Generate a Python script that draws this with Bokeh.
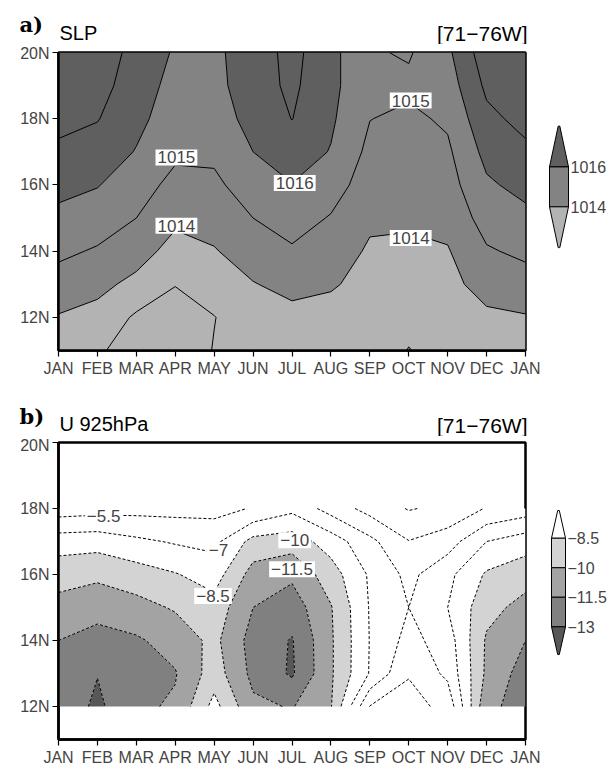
import numpy as np
from bokeh.plotting import figure
from bokeh.models import Range1d, FixedTicker, Label
from bokeh.layouts import column, row
from bokeh.core.properties import value
from bokeh.embed import file_html
from bokeh.resources import INLINE

# ---------------- data ----------------
MONTHS = ["JAN", "FEB", "MAR", "APR", "MAY", "JUN", "JUL", "AUG", "SEP", "OCT", "NOV", "DEC", "JAN"]
month_pos = list(range(13))
lat_ticks = [12, 14, 16, 18, 20]
lat_labels = ["12N", "14N", "16N", "18N", "20N"]

# SLP (hPa), latitudes 11N..20N, one list per month
slp_lats = [11, 12, 13, 14, 15, 16, 17, 18, 19, 20]
slp_jan = [1013.3, 1013.93, 1014.6, 1015.2, 1015.75, 1016.3, 1016.8, 1017.3, 1017.7, 1017.95]
slp_feb = [1013.15, 1013.7, 1014.25, 1014.9, 1015.5, 1016.05, 1016.55, 1017.05, 1017.4, 1017.7]
slp_mar = [1012.5, 1012.85, 1013.75, 1014.4, 1015.0, 1015.45, 1015.95, 1016.25, 1016.45, 1016.6]
slp_apr = [1012.3, 1012.6, 1013.03, 1013.65, 1014.2, 1014.7, 1015.2, 1015.5, 1015.7, 1015.9]
slp_may = [1013.05, 1012.97, 1013.5, 1013.93, 1014.4, 1014.8, 1015.2, 1015.5, 1015.7, 1015.8]
slp_jun = [1013.3, 1013.6, 1013.95, 1014.5, 1015.0, 1015.5, 1016.0, 1016.35, 1016.55, 1016.5]
slp_jul = [1013.1, 1013.7, 1014.3, 1014.88, 1015.42, 1015.97, 1016.5, 1017.02, 1017.2, 1017.3]
slp_aug = [1013.1, 1013.55, 1014.13, 1014.6, 1014.93, 1015.45, 1015.95, 1016.15, 1016.25, 1016.3]
slp_sep = [1013.2, 1013.4, 1013.6, 1013.85, 1014.2, 1014.5, 1014.75, 1015.02, 1015.25, 1015.1]
slp_oct = [1014.05, 1013.6, 1013.7, 1013.8, 1014.15, 1014.4, 1014.6, 1014.8, 1015.2, 1014.9]
slp_nov = [1013.4, 1013.5, 1013.7, 1013.93, 1014.3, 1014.6, 1014.83, 1015.15, 1015.5, 1015.8]
slp_dec = [1013.2, 1013.8, 1014.4, 1014.9, 1015.4, 1015.85, 1016.3, 1016.75, 1017.2, 1017.6]
slp_fill_levels = [1000, 1014, 1016, 1030]
slp_line_levels = [1013, 1014, 1015, 1016, 1017]
slp_labels = [(3.03, 16.83, 1015), (6.07, 16.06, 1016), (9.05, 18.55, 1015),
              (3.03, 14.77, 1014), (9.05, 14.40, 1014)]
slp_cbar_labels = ["1016", "1014"]

# U 925hPa (m/s), latitudes 12N..18N, one list per month
u_lats = [12, 13, 14, 15, 16, 17, 18]
u_jan = [-12.0, -12.2, -11.5, -10.5, -9.4, -7.8, -4.7]
u_feb = [-13.3, -12.95, -12.1, -10.9, -9.7, -7.9, -4.9]
u_mar = [-11.8, -12.0, -11.7, -10.5, -9.2, -7.3, -5.0]
u_apr = [-11.3, -11.6, -10.9, -9.85, -8.6, -6.85, -5.0]
u_may = [-8.0, -9.25, -9.6, -9.1, -7.8, -6.6, -5.0]
u_jun = [-11.2, -11.9, -12.1, -11.5, -10.6, -9.0, -5.6]
u_jul = [-11.6, -13.2, -13.1, -12.3, -11.2, -9.3, -6.6]
u_aug = [-10.1, -10.2, -10.2, -10.1, -9.2, -7.8, -4.9]
u_sep = [-3.95, -6.9, -6.95, -6.9, -6.8, -5.9, -3.45]
u_oct = [-3.5, -4.1, -5.0, -5.5, -5.1, -4.05, -2.4]
u_nov = [-4.4, -5.85, -6.25, -7.0, -6.6, -4.8, -2.85]
u_dec = [-11.2, -10.3, -10.2, -9.5, -8.7, -7.0, -4.1]
u_fill_levels = [-20, -13, -11.5, -10, -8.5, 0]
u_line_levels = [-13, -11.5, -10, -8.5, -7, -5.5, -4, -2.5]
u_labels = [(1.16, 17.76, -5.5), (4.11, 16.74, -7), (6.07, 17.04, -10),
            (6.0, 16.16, -11.5), (3.97, 15.35, -8.5)]
u_cbar_labels = ["-8.5", "-10", "-11.5", "-13"]

# ---------------- style ----------------
FONT = "Liberation Sans"
SLP_COLORS = ["#b3b3b3", "#838383", "#5f5f5f"]
U_COLORS = ["#575757", "#808080", "#a3a3a3", "#d3d3d3", "#ffffff"]


def fmt(v):
    return ("%g" % v).replace("-", "\u2212")


def main_fig(height, top, bottom):
    p = figure(width=540, height=height, x_range=Range1d(0, 12), y_range=Range1d(11, 20),
               output_backend="svg", toolbar_location=None,
               min_border_left=58, min_border_right=15, min_border_top=top, min_border_bottom=bottom)
    p.xgrid.visible = False
    p.ygrid.visible = False
    p.background_fill_color = "white"
    p.outline_line_color = "black"
    p.outline_line_width = 2.5
    for ax in (p.xaxis, p.yaxis):
        ax.axis_line_color = "black"
        ax.axis_line_width = 2.5
        ax.major_tick_out = 6
        ax.major_tick_in = 0
        ax.major_tick_line_width = 1.2
        ax.minor_tick_line_color = None
        ax.major_label_text_font = FONT
        ax.major_label_text_font_size = "16px"
        ax.major_label_standoff = 3
    p.xaxis.ticker = FixedTicker(ticks=month_pos)
    p.xaxis.major_label_overrides = {i: m for i, m in zip(month_pos, MONTHS)}
    p.yaxis.ticker = FixedTicker(ticks=lat_ticks)
    p.yaxis.major_label_overrides = {t: l for t, l in zip(lat_ticks, lat_labels)}
    return p


def header_fig(height, letter, name, y_letter, y_name, y_region):
    h = figure(width=613, height=height, x_range=Range1d(0, 613), y_range=Range1d(height, 0),
               output_backend="svg", toolbar_location=None, min_border=0,
               x_axis_location=None, y_axis_location=None)
    h.xgrid.visible = False
    h.ygrid.visible = False
    h.outline_line_color = None
    h.text(x=[19], y=[y_letter], text=[letter], text_font=value("DejaVu Serif"),
           text_font_style="bold", text_font_size="21px", text_baseline="bottom")
    h.text(x=[59], y=[y_name], text=[name], text_font=value(FONT),
           text_font_size="20px", text_baseline="bottom")
    h.text(x=[527], y=[y_region], text=["[71\u221276W]"], text_font=value(FONT),
           text_font_size="21px", text_baseline="bottom", text_align="right")
    return h


def add_labels(p, labels):
    for x, y, v in labels:
        p.add_layout(Label(x=x, y=y, text=fmt(v), text_font=FONT, text_font_size="17px",
                           text_align="center", text_baseline="middle",
                           background_fill_color="white", padding=2))


def cbar_fig(height, tip_top, tri_h, seg_h, x0, w, colors, labels):
    c = figure(width=73, height=height, x_range=Range1d(0, 73), y_range=Range1d(height, 0),
               output_backend="svg", toolbar_location=None, min_border=0,
               x_axis_location=None, y_axis_location=None)
    c.xgrid.visible = False
    c.ygrid.visible = False
    c.outline_line_color = None
    n_rect = len(colors) - 2
    xm = x0 + w / 2.0
    y_top = tip_top + tri_h
    xs, ys = [], []
    xs.append([xm - 0.8, xm + 0.8, x0 + w, x0])
    ys.append([tip_top, tip_top, y_top, y_top])
    for i in range(n_rect):
        y1 = y_top + i * seg_h
        xs.append([x0, x0 + w, x0 + w, x0])
        ys.append([y1, y1, y1 + seg_h, y1 + seg_h])
    y_bot = y_top + n_rect * seg_h
    xs.append([x0, x0 + w, xm + 0.8, xm - 0.8])
    ys.append([y_bot, y_bot, y_bot + tri_h, y_bot + tri_h])
    c.patches(xs, ys, fill_color=list(reversed(colors)), line_color="black", line_width=1)
    for i, lab in enumerate(labels):
        c.add_layout(Label(x=x0 + w + 2, y=y_top + i * seg_h, text=lab.replace("-", "\u2212"),
                           text_font=FONT, text_font_size="16px", text_baseline="middle"))
    return c


# ---------------- panel a ----------------
slp_cols = [slp_jan, slp_feb, slp_mar, slp_apr, slp_may, slp_jun, slp_jul,
            slp_aug, slp_sep, slp_oct, slp_nov, slp_dec, slp_jan]
Za = np.array(slp_cols, dtype=float).T
ha = header_fig(44, "a)", "SLP", 36, 43, 44)
pa = main_fig(336, 8, 30)
pa.contour(x=month_pos, y=slp_lats, z=Za, levels=slp_fill_levels,
           fill_color=SLP_COLORS, line_color=None)
pa.contour(x=month_pos, y=slp_lats, z=Za, levels=slp_line_levels,
           fill_color=None, line_color="black", line_width=1)
add_labels(pa, slp_labels)
ca = cbar_fig(336, 83, 46, 45, 9, 19, SLP_COLORS, slp_cbar_labels)

# ---------------- panel b ----------------
u_cols = [u_jan, u_feb, u_mar, u_apr, u_may, u_jun, u_jul,
          u_aug, u_sep, u_oct, u_nov, u_dec, u_jan]
Zb = np.array(u_cols, dtype=float).T
hb = header_fig(56, "b)", "U 925hPa", 48, 54, 56)
pb = main_fig(332, 6, 28)
pb.contour(x=month_pos, y=u_lats, z=Zb, levels=u_fill_levels,
           fill_color=U_COLORS, line_color=None)
pb.contour(x=month_pos, y=u_lats, z=Zb, levels=u_line_levels,
           fill_color=None, line_color="black", line_width=1, line_dash="3 2")
add_labels(pb, u_labels)
cb = cbar_fig(332, 76, 31, 33, 11, 14, U_COLORS, u_cbar_labels)

layout = column(ha, row(pa, ca), hb, row(pb, cb))
open("out.html", "w").write(file_html(layout, INLINE))
